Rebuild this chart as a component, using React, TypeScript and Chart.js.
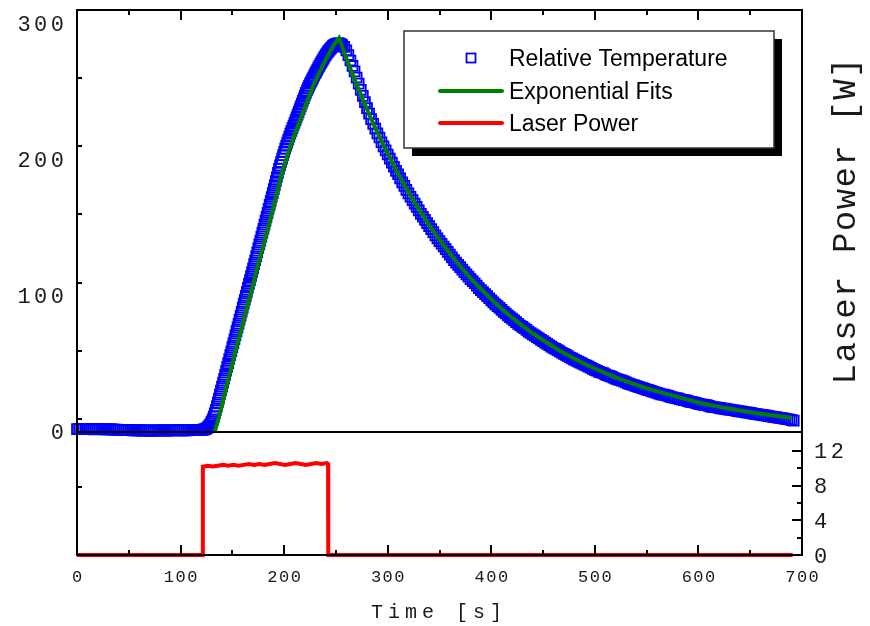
import React, { useEffect, useRef } from 'react';
import { Chart, registerables } from 'chart.js';

Chart.register(...registerables);

// ---------- data ----------
const SERIES_LABELS = ['Relative Temperature', 'Exponential Fits', 'Laser Power'];
const X_TITLE = 'Time [s]';
const Y2_TITLE = 'Laser Power [W]';

const X_TICK_LABELS = [0, 100, 200, 300, 400, 500, 600, 700];
const TEMP_TICK_LABELS = [0, 100, 200, 300];
const POWER_TICK_LABELS = [0, 4, 8, 12];

// Relative temperature (blue open squares) — baseline before heating
const TEMP_TIME_BASE = [
  0, 2, 4, 6, 8, 10, 12, 14, 16, 18,
  20, 22, 24, 26, 28, 30, 32, 34, 36, 38,
  40, 42, 44, 46, 48, 50, 52, 54, 56, 58,
  60, 62, 64, 66, 68, 70, 72, 74, 76, 78,
  80, 82, 84, 86, 88, 90, 92, 94, 96, 98,
  100, 102, 104, 106, 108, 110, 112, 114, 116, 118,
  120,
];
const TEMP_VALUES_BASE = [
  2.0, 2.0, 1.9, 2.0, 2.1, 2.0, 2.0, 1.9, 1.8, 1.9,
  1.9, 2.0, 2.0, 1.8, 1.7, 1.8, 1.8, 1.7, 1.6, 1.6,
  1.5, 1.5, 1.4, 1.4, 1.3, 1.3, 1.2, 1.1, 1.0, 1.1,
  1.1, 1.0, 0.9, 1.0, 1.0, 0.8, 0.8, 0.9, 0.9, 1.0,
  1.0, 1.1, 1.1, 1.0, 0.9, 1.0, 1.0, 1.1, 1.2, 1.2,
  1.1, 1.0, 1.0, 1.1, 1.2, 1.2, 1.3, 1.2, 1.2, 1.3,
  1.4,
];

// Relative temperature — heating
const TEMP_TIME_HEAT = [
  121, 122, 123, 124, 125, 126, 127, 128, 129, 130,
  131, 132, 133, 134, 135, 136, 137, 138, 139, 140,
  141, 142, 143, 144, 145, 146, 147, 148, 149, 150,
  151, 152, 153, 154, 155, 156, 157, 158, 159, 160,
  161, 162, 163, 164, 165, 166, 167, 168, 169, 170,
  171, 172, 173, 174, 175, 176, 177, 178, 179, 180,
  181, 182, 183, 184, 185, 186, 187, 188, 189, 190,
  191, 192, 193, 194, 195, 196, 197, 198, 199, 200,
  201, 202, 203, 204, 205, 206, 207, 208, 209, 210,
  211, 212, 213, 214, 215, 216, 217, 218, 219, 220,
  221, 222, 223, 224, 225, 226, 227, 228, 229, 230,
  231, 232, 233, 234, 235, 236, 237, 238, 239, 240,
  241, 242, 243, 244, 245, 246, 247, 248, 249, 250,
  251, 252, 253, 254, 255, 256,
];
const TEMP_VALUES_HEAT = [
  1.5, 1.6, 1.8, 2.0, 2.4, 3.0, 3.8, 4.8, 6.0, 7.5,
  9.2, 11.2, 13.5, 16, 18.7, 21.5, 24.4, 27.4, 30.3, 33.1,
  36.1, 38.9, 41.7, 44.8, 47.6, 50.4, 53.4, 56.3, 59.1, 62.1,
  65.1, 67.9, 70.7, 73.8, 76.6, 79.4, 82.4, 85.3, 88.1, 91.1,
  94.1, 96.9, 99.7, 102.7, 105.7, 108.5, 111.3, 114.3, 117.2, 120.0,
  123.0, 125.9, 128.7, 131.7, 134.7, 137.5, 140.3, 143.3, 146.2, 149.0,
  152.0, 154.9, 157.7, 160.7, 163.7, 166.5, 169.3, 172.3, 175.2, 178.1,
  181, 184, 187, 190, 193, 195.5, 198, 200.5, 203, 205.5,
  207.8, 210, 212.2, 214.4, 216.6, 218.8, 220.8, 222.8, 224.8, 226.8,
  228.8, 230.8, 232.8, 234.8, 236.8, 238.8, 240.8, 242.8, 244.8, 246.8,
  248.8, 250.5, 252.2, 253.9, 255.5, 257, 258.5, 260, 261.5, 263,
  264.4, 265.8, 267.2, 268.6, 270, 271.3, 272.6, 273.9, 275.2, 276.4,
  277.5, 278.6, 279.6, 280.5, 281.4, 282.2, 283, 283.6, 284.1, 284.5,
  284.8, 285, 285, 284.8, 284.4, 283.8,
];

// Relative temperature — cooling
const TEMP_TIME_COOL = [
  258, 260, 262, 264, 266, 268, 270, 272, 274, 276,
  278, 280, 282, 284, 286, 288, 290, 292, 294, 296,
  298, 300, 302, 304, 306, 308, 310, 312, 314, 316,
  318, 320, 322, 324, 326, 328, 330, 332, 334, 336,
  338, 340, 342, 344, 346, 348, 350, 352, 354, 356,
  358, 360, 362, 364, 366, 368, 370, 372, 374, 376,
  378, 380, 382, 384, 386, 388, 390, 392, 394, 396,
  398, 400, 402, 404, 406, 408, 410, 412, 414, 416,
  418, 420, 422, 424, 426, 428, 430, 432, 434, 436,
  438, 440, 442, 444, 446, 448, 450, 452, 454, 456,
  458, 460, 462, 464, 466, 468, 470, 472, 474, 476,
  478, 480, 482, 484, 486, 488, 490, 492, 494, 496,
  498, 500, 502, 504, 506, 508, 510, 512, 514, 516,
  518, 520, 522, 524, 526, 528, 530, 532, 534, 536,
  538, 540, 542, 544, 546, 548, 550, 552, 554, 556,
  558, 560, 562, 564, 566, 568, 570, 572, 574, 576,
  578, 580, 582, 584, 586, 588, 590, 592, 594, 596,
  598, 600, 602, 604, 606, 608, 610, 612, 614, 616,
  618, 620, 622, 624, 626, 628, 630, 632, 634, 636,
  638, 640, 642, 644, 646, 648, 650, 652, 654, 656,
  658, 660, 662, 664, 666, 668, 670, 672, 674, 676,
  678, 680, 682, 684, 686, 688, 690, 692,
];
const TEMP_VALUES_COOL = [
  282.5, 280, 276.5, 272.5, 268.5, 264.5, 260, 255.5, 251, 246.5,
  242, 237.5, 233.5, 229.5, 226, 222.5, 219, 216, 212.5, 209.5,
  206.5, 203.5, 200.5, 197.5, 194.5, 191.5, 189, 186, 183, 180.5,
  177.5, 175, 172.5, 170, 167.5, 165, 162.5, 160, 157.8, 155.5,
  153.2, 151, 148.8, 146.5, 144.2, 142, 140, 138, 136, 134,
  132, 130, 128, 126, 124.2, 122.5, 120.8, 119, 117.2, 115.5,
  113.8, 112, 110.5, 109, 107.2, 105.5, 104, 102.5, 101, 99.5,
  98, 96.5, 95, 93.5, 92.2, 91, 89.5, 88, 86.8, 85.5,
  84.2, 83, 81.8, 80.5, 79.2, 78, 77, 76, 74.8, 73.5,
  72.5, 71.5, 70.5, 69.5, 68.5, 67.5, 66.5, 65.5, 64.5, 63.5,
  62.5, 61.5, 60.8, 60, 59, 58, 57.2, 56.5, 55.5, 54.5,
  53.8, 53, 52.2, 51.5, 50.8, 50, 49.2, 48.5, 47.8, 47,
  46.2, 45.5, 44.8, 44, 43.5, 43, 42.2, 41.5, 41, 40.5,
  39.8, 39, 38.5, 38, 37.5, 37, 36.2, 35.5, 35, 34.5,
  34, 33.5, 33, 32.5, 32, 31.5, 31, 30.5, 30, 29.5,
  29, 28.5, 28, 27.5, 27.2, 27, 26.5, 26, 25.5, 25,
  24.8, 24.5, 24, 23.5, 23.2, 23, 22.5, 22, 21.8, 21.5,
  21, 20.5, 20.2, 20, 19.8, 19.5, 19, 18.5, 18.2, 18,
  17.8, 17.5, 17.2, 17, 16.8, 16.5, 16.2, 16, 15.8, 15.5,
  15.2, 15, 14.8, 14.5, 14.2, 14, 13.8, 13.5, 13.2, 13,
  12.8, 12.5, 12.2, 12, 11.8, 11.5, 11.2, 11, 10.8, 10.5,
  10.2, 10, 9.8, 9.5, 9.2, 9, 8.6, 8.2,
];

// Exponential fits (green line)
const FIT_TIME = [
  133, 136, 140, 146, 150, 155, 160, 165, 170, 175, 180, 185, 190, 195, 199, 205, 210, 215, 220, 225, 228, 233, 238, 243, 248, 253,
  260, 268, 276, 284, 292, 300, 310, 320, 330, 340, 350, 360, 370, 380, 390, 400, 410, 420, 430, 440, 450, 460, 470, 480, 490,
  500, 510, 520, 530, 540, 550, 560, 570, 580, 590, 600, 610, 620, 630, 640, 650, 660, 670, 680, 690,
];
const FIT_VALUES = [
  0, 8, 20, 38, 50, 65, 79, 94, 108, 123, 137, 151, 166, 181, 193, 207, 218, 228, 238, 248, 254, 262, 270, 277, 284, 289,
  274.4, 258.6, 243.7, 229.7, 216.5, 204, 189.5, 175.9, 163.4, 151.7, 140.9, 130.8, 121.5, 112.8, 104.8, 97.3, 90.3, 83.9, 77.9, 72.3, 67.2, 62.4, 57.9, 53.8, 49.9,
  46.4, 43.1, 40, 37.1, 34.5, 32, 29.7, 27.6, 25.6, 23.6, 21.5, 19.8, 18.3, 16.9, 15.6, 14.4, 13.3, 12.2, 11.2, 10.3,
];

// Laser power (red line)
const LASER_TIME = [
  0, 121.3, 121.5, 126, 131, 136, 141, 146, 151, 156, 161, 166, 171, 176, 181, 186, 191, 196, 201, 206, 211, 216, 221, 226, 231,
  236, 241, 242.4, 242.6, 691,
];
const LASER_VALUES = [
  0, 0, 10.2, 10.3, 10.2, 10.3, 10.4, 10.3, 10.4, 10.3, 10.4, 10.5, 10.4, 10.5, 10.4, 10.5, 10.6, 10.5, 10.4, 10.5, 10.6, 10.5,
  10.4, 10.5, 10.6, 10.5, 10.6, 10.5, 0, 0,
];

// ---------- layout ----------
const W = 870;
const H = 626;
const LEFT_W = 77;
const RIGHT_W = 68;
const TOP_PAD = 10;
const BOTTOM_H = 71;

const BLUE = '#0000ff';
const GREEN = '#008000';
const RED = '#ff0000';
const INK = '#1a1a1a';

function pts(xs: number[], ys: number[]) {
  const n = Math.min(xs.length, ys.length);
  const out: { x: number; y: number }[] = [];
  for (let i = 0; i < n; i++) out.push({ x: xs[i], y: ys[i] });
  return out;
}

function drawText(
  ctx: CanvasRenderingContext2D,
  text: string,
  x: number,
  y: number,
  font: string,
  align: CanvasTextAlign,
  ls: number
) {
  ctx.font = font;
  (ctx as any).letterSpacing = ls + 'px';
  ctx.textAlign = align;
  ctx.textBaseline = 'alphabetic';
  const shift = align === 'right' ? ls : align === 'center' ? ls / 2 : 0;
  ctx.fillText(text, x + shift, y);
}

function seg(ctx: CanvasRenderingContext2D, x1: number, y1: number, x2: number, y2: number) {
  ctx.beginPath();
  ctx.moveTo(x1, y1);
  ctx.lineTo(x2, y2);
  ctx.stroke();
}

const framePlugin = {
  id: 'originFrame',
  afterDatasetsDraw(chart: any) {
    const { ctx, chartArea: a, scales } = chart;
    const xs = scales.x;
    const ys = scales.y;
    const y2s = scales.y2;
    ctx.save();
    ctx.strokeStyle = '#000';
    ctx.lineWidth = 2;
    ctx.strokeRect(a.left, a.top, a.right - a.left, a.bottom - a.top);
    const y0 = Math.round(ys.getPixelForValue(0));
    seg(ctx, a.left, y0, a.right, y0);

    // inward ticks
    for (const t of xs.ticks) {
      const px = Math.round(xs.getPixelForValue(t.value));
      const len = t.value % 100 === 0 ? 10 : 5;
      seg(ctx, px, a.bottom, px, a.bottom - len);
      seg(ctx, px, a.top, px, a.top + len);
    }
    for (const t of ys.ticks) {
      if (t.value < ys.min || t.value > ys.max) continue;
      const py = Math.round(ys.getPixelForValue(t.value));
      const len = t.value % 100 === 0 ? 10 : 5;
      seg(ctx, a.left, py, a.left + len, py);
    }
    for (const t of y2s.ticks) {
      if (t.value > 13) continue;
      const py = Math.round(y2s.getPixelForValue(t.value));
      const len = t.value % 4 === 0 ? 10 : 5;
      seg(ctx, a.right, py, a.right - len, py);
    }

    // tick labels
    ctx.fillStyle = INK;
    for (const v of X_TICK_LABELS) {
      drawText(ctx, String(v), xs.getPixelForValue(v), a.bottom + 27, '17px "Liberation Mono"', 'center', 1.5);
    }
    for (const v of TEMP_TICK_LABELS) {
      drawText(ctx, String(v), a.left - 13, ys.getPixelForValue(v) + 7.5, '22px "Liberation Mono"', 'right', 3.5);
    }
    for (const v of POWER_TICK_LABELS) {
      drawText(ctx, String(v), a.right + 12, y2s.getPixelForValue(v) + 7.5, '22px "Liberation Mono"', 'left', 3.5);
    }

    // axis titles
    drawText(ctx, X_TITLE, (a.left + a.right) / 2 - 3, 618, '20px "Liberation Mono"', 'center', 5);
    ctx.save();
    ctx.translate(855, (a.top + y0) / 2);
    ctx.rotate(-Math.PI / 2);
    drawText(ctx, Y2_TITLE, 0, 0, '34px "Liberation Mono"', 'center', 1.5);
    ctx.restore();

    // legend with drop shadow
    (ctx as any).letterSpacing = '0px';
    const bx = 404, by = 31, bw = 370, bh = 117;
    ctx.fillStyle = '#000';
    ctx.fillRect(bx + 8, by + 8, bw, bh);
    ctx.fillStyle = '#fff';
    ctx.fillRect(bx, by, bw, bh);
    ctx.strokeStyle = '#333';
    ctx.lineWidth = 1.5;
    ctx.strokeRect(bx, by, bw, bh);

    const rows = [58, 91, 123];
    ctx.strokeStyle = BLUE;
    ctx.lineWidth = 1.8;
    ctx.strokeRect(466.5, rows[0] - 4.5, 9, 9);
    ctx.lineWidth = 4;
    ctx.lineCap = 'round';
    ctx.strokeStyle = GREEN;
    seg(ctx, 440, rows[1], 502, rows[1]);
    ctx.strokeStyle = RED;
    seg(ctx, 440, rows[2], 502, rows[2]);
    ctx.fillStyle = '#000';
    for (let i = 0; i < 3; i++) {
      drawText(ctx, SERIES_LABELS[i], 509, rows[i] + 8, '23px "Liberation Sans"', 'left', 0);
    }
    ctx.restore();
  },
};

export default function App() {
  const ref = useRef<HTMLCanvasElement>(null);
  useEffect(() => {
    document.body.style.margin = '0';
    const canvas = ref.current!;
    const tempPoints = [
      ...pts(TEMP_TIME_BASE, TEMP_VALUES_BASE),
      ...pts(TEMP_TIME_HEAT, TEMP_VALUES_HEAT),
      ...pts(TEMP_TIME_COOL, TEMP_VALUES_COOL),
    ];
    const chart = new Chart(canvas, {
      type: 'scatter',
      data: {
        datasets: [
          {
            label: SERIES_LABELS[0],
            data: tempPoints,
            yAxisID: 'y',
            showLine: false,
            pointStyle: 'rect',
            pointRadius: 7,
            pointBorderWidth: 1.8,
            borderColor: BLUE,
            backgroundColor: 'rgba(0,0,0,0)',
            pointBackgroundColor: 'rgba(0,0,0,0)',
            pointBorderColor: BLUE,
            clip: false,
            order: 3,
          } as any,
          {
            label: SERIES_LABELS[1],
            data: pts(FIT_TIME, FIT_VALUES),
            yAxisID: 'y',
            showLine: true,
            pointRadius: 0,
            borderColor: GREEN,
            borderWidth: 4,
            tension: 0,
            clip: false,
            order: 2,
          } as any,
          {
            label: SERIES_LABELS[2],
            data: pts(LASER_TIME, LASER_VALUES),
            yAxisID: 'y2',
            showLine: true,
            pointRadius: 0,
            borderColor: RED,
            borderWidth: 4,
            tension: 0,
            clip: false,
            order: 1,
          } as any,
        ],
      },
      options: {
        responsive: false,
        animation: false,
        devicePixelRatio: 1,
        layout: { padding: { top: TOP_PAD, left: 0, right: 0, bottom: 0 } },
        plugins: { legend: { display: false }, tooltip: { enabled: false }, title: { display: false } },
        events: [],
        scales: {
          x: {
            type: 'linear',
            position: 'bottom',
            min: 0,
            max: 700,
            ticks: { display: false, stepSize: 50 },
            grid: { display: false, drawTicks: false },
            border: { display: false },
            afterFit: (s: any) => {
              s.height = BOTTOM_H;
            },
          },
          y: {
            type: 'linear',
            position: 'left',
            min: -90.44,
            max: 309.56,
            ticks: { display: false, stepSize: 50, includeBounds: false },
            grid: { display: false, drawTicks: false },
            border: { display: false },
            afterFit: (s: any) => {
              s.width = LEFT_W;
            },
          },
          y2: {
            type: 'linear',
            position: 'right',
            min: 0,
            max: 62.88,
            ticks: { display: false, stepSize: 2, includeBounds: false },
            grid: { display: false, drawTicks: false },
            border: { display: false },
            afterFit: (s: any) => {
              s.width = RIGHT_W;
            },
          },
        },
      } as any,
      plugins: [framePlugin],
    });
    return () => chart.destroy();
  }, []);
  return (
    <div style={{ width: W, height: H, background: '#fff' }}>
      <canvas ref={ref} width={W} height={H} style={{ display: 'block', width: W, height: H }} />
    </div>
  );
}
